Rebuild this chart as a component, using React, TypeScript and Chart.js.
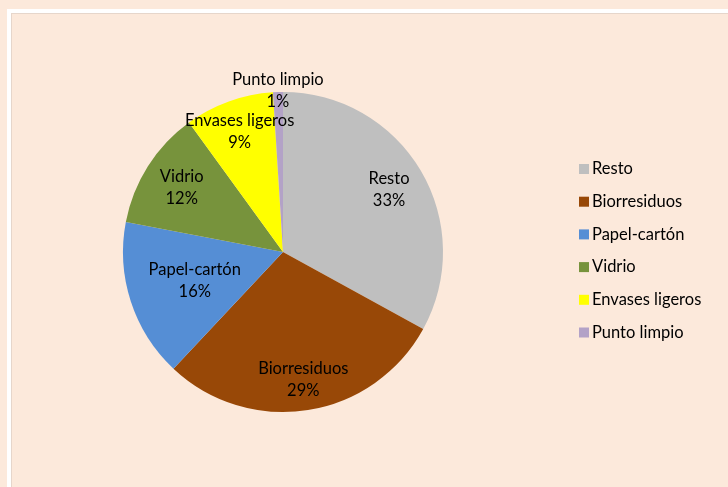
import React, { useEffect, useRef } from "react";
import { Chart, registerables } from "chart.js";

Chart.register(...registerables);

const categories = ["Resto", "Biorresiduos", "Papel-cartón", "Vidrio", "Envases ligeros", "Punto limpio"];
const values = [33, 29, 16, 12, 9, 1];
const colors = ["#BFBFBF", "#984807", "#558ED5", "#77933C", "#FFFF00", "#B3A2C7"];
const labelRadius = [0.77, 0.81, 0.58, 0.75, 0.8, 1.01];

const FONT = "Lato, 'Open Sans', sans-serif";
const BG = "#FCE9DB";

const labelPlugin = {
  id: "sliceLabels",
  afterDatasetsDraw(chart: any) {
    const ctx = chart.ctx;
    const meta = chart.getDatasetMeta(0);
    const total = values.reduce((a, b) => a + b, 0);
    ctx.save();
    ctx.fillStyle = "#000";
    ctx.font = `16.5px ${FONT}`;
    ctx.textAlign = "center";
    ctx.textBaseline = "middle";
    meta.data.forEach((arc: any, i: number) => {
      const p = arc.getProps(["x", "y", "startAngle", "endAngle", "outerRadius"], true);
      const mid = (p.startAngle + p.endAngle) / 2;
      const r = p.outerRadius * labelRadius[i];
      const x = p.x + Math.cos(mid) * r;
      const y = p.y + Math.sin(mid) * r;
      const pct = Math.round((values[i] / total) * 100) + "%";
      ctx.fillText(categories[i], x, y - 11);
      ctx.fillText(pct, x, y + 11);
    });
    // legend
    const lx = 579;
    const ly0 = 169;
    const step = 32.7;
    categories.forEach((c, i) => {
      const y = ly0 + i * step;
      ctx.fillStyle = colors[i];
      ctx.fillRect(lx, y - 5, 10, 10);
      ctx.fillStyle = "#000";
      ctx.textAlign = "left";
      ctx.fillText(c, lx + 13, y);
    });
    ctx.restore();
  },
};

export default function App() {
  const ref = useRef<HTMLCanvasElement>(null);
  useEffect(() => {
    if (!ref.current) return;
    const chart = new Chart(ref.current, {
      type: "pie",
      data: {
        labels: categories,
        datasets: [
          {
            data: values,
            backgroundColor: colors,
            borderWidth: 0,
          },
        ],
      },
      options: {
        animation: false,
        responsive: false,
        layout: { padding: { left: 123, right: 285, top: 92, bottom: 75 } },
        plugins: {
          legend: { display: false },
          tooltip: { enabled: false },
        },
      },
      plugins: [labelPlugin],
    });
    return () => chart.destroy();
  }, []);
  return (
    <div style={{ position: "fixed", left: 0, top: 0, width: 728, height: 487, background: BG, overflow: "hidden" }}>
      <div
        style={{
          position: "absolute",
          left: 7,
          top: 9,
          width: 760,
          height: 520,
          borderLeft: "4px solid #FFFFFF",
          borderTop: "4px solid #FFFFFF",
          boxSizing: "border-box",
        }}
      >
        <div
          style={{
            position: "absolute",
            left: 0,
            top: 0,
            right: 0,
            bottom: 0,
            borderLeft: "1px solid #E6D6CB",
            borderTop: "1px solid #E6D6CB",
          }}
        />
      </div>
      <canvas ref={ref} width={728} height={487} style={{ position: "absolute", left: 0, top: 0 }} />
    </div>
  );
}
